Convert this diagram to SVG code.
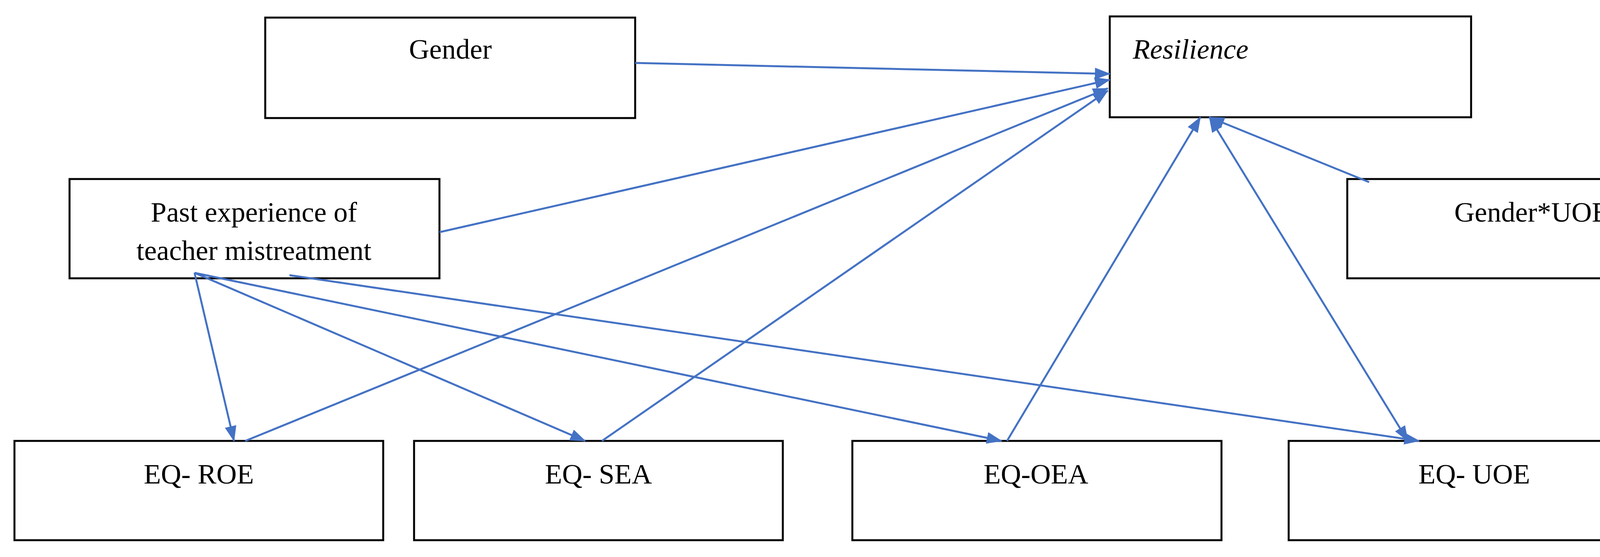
<svg xmlns="http://www.w3.org/2000/svg" width="4433" height="1425" viewBox="0 0 4433 1425">
<style>
.n{fill:#fff;stroke:#000;stroke-width:5}
.t{font-family:"Liberation Serif",serif;font-size:72px;fill:#000;text-anchor:middle}
.c line{stroke:#4472C4;stroke-width:5;marker-end:url(#a)}
</style>
<defs><marker id="a" viewBox="0 0 40 30" refX="38" refY="15" markerWidth="40" markerHeight="30" markerUnits="userSpaceOnUse" orient="auto-start-reverse"><path d="M0,0 L40,15 L0,30 z" fill="#4472C4"/></marker></defs>
<rect width="4433" height="1425" fill="#fff"/>
<g id="gender"><rect class="n" x="679" y="45" width="947" height="257"/><text class="t" x="1153" y="150">Gender</text></g>
<g id="resilience"><rect class="n" x="2841" y="42" width="925" height="258"/><text class="t" x="2900" y="150" style="text-anchor:start;font-style:italic">Resilience</text></g>
<g id="past"><rect class="n" x="178" y="458" width="947" height="254"/><text class="t" x="650" y="567">Past experience of</text><text class="t" x="650" y="665">teacher mistreatment</text></g>
<g id="genderuoe"><rect class="n" x="3449" y="458" width="944" height="254"/><text class="t" x="3921" y="567">Gender*UOE</text></g>
<g id="roe"><rect class="n" x="37" y="1128" width="944" height="254"/><text class="t" x="509" y="1237">EQ- ROE</text></g>
<g id="sea"><rect class="n" x="1060" y="1128" width="944" height="254"/><text class="t" x="1532" y="1237">EQ- SEA</text></g>
<g id="oea"><rect class="n" x="2182" y="1128" width="945" height="254"/><text class="t" x="2652" y="1237">EQ-OEA</text></g>
<g id="uoe"><rect class="n" x="3299" y="1128" width="944" height="254"/><text class="t" x="3774" y="1237">EQ- UOE</text></g>
<g class="c" id="connectors">
<line x1="1626" y1="161" x2="2841" y2="189"/>
<line x1="1125" y1="594" x2="2841" y2="204"/>
<line x1="628" y1="1128" x2="2836" y2="226"/>
<line x1="1541" y1="1128" x2="2836" y2="232"/>
<line x1="2578" y1="1128" x2="3073" y2="300"/>
<line x1="3604" y1="1128" x2="3096" y2="300" style="marker-start:url(#a)"/>
<line x1="3505" y1="466" x2="3096" y2="300"/>
<line x1="498" y1="698" x2="599" y2="1128"/>
<line x1="498" y1="698" x2="1498" y2="1128"/>
<line x1="498" y1="698" x2="2564" y2="1128"/>
<line x1="741" y1="704" x2="3633" y2="1128"/>
</g>
</svg>
